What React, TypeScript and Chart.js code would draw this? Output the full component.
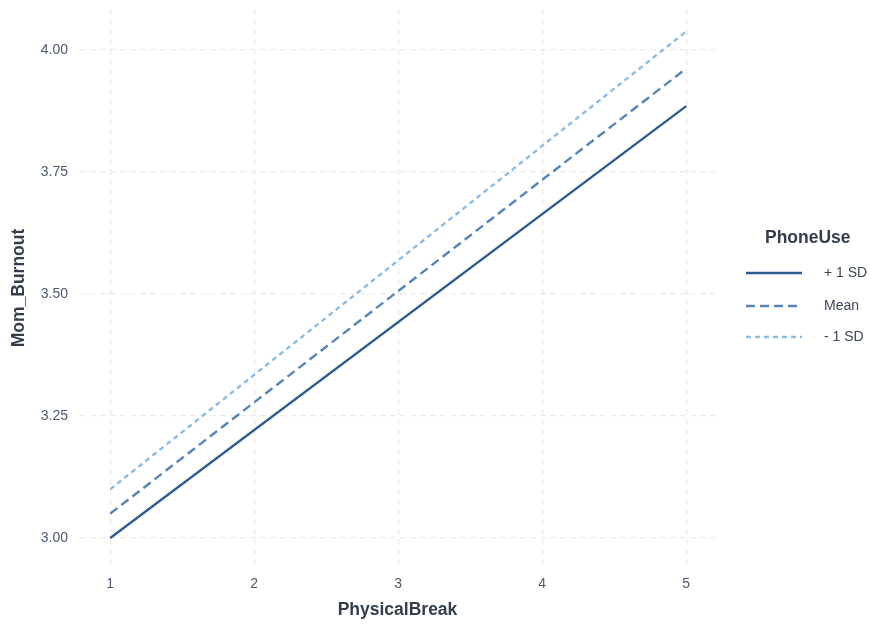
import React, { useEffect, useRef } from "react";
import { Chart, registerables } from "chart.js";

Chart.register(...registerables);

const xValues = [1, 5];
const plusSD = [3.0, 3.885];
const meanSD = [3.05, 3.962];
const minusSD = [3.1, 4.038];
const seriesLabels = ["+ 1 SD", "Mean", "- 1 SD"];
const legendTitle = "PhoneUse";
const xTitle = "PhysicalBreak";
const yTitle = "Mom_Burnout";
const xTicks = [1, 2, 3, 4, 5];
const yTicks = [3.0, 3.25, 3.5, 3.75, 4.0];
const colors = ["#2c5b8d", "#5584b9", "#8bbbe6"];
const dashes: number[][] = [[], [9, 5], [5, 4]];
const FONT = "'Liberation Sans', Arial, sans-serif";

const legendPlugin = {
  id: "ggLegend",
  afterDraw(chart: any) {
    const ctx = chart.ctx;
    ctx.save();
    ctx.fillStyle = "#333d4e";
    ctx.font = `bold 17.5px ${FONT}`;
    ctx.textAlign = "left";
    ctx.textBaseline = "middle";
    ctx.fillText(legendTitle, 765, 238);
    ctx.font = `14px ${FONT}`;
    const ys = [273, 306, 337];
    seriesLabels.forEach((lab, i) => {
      ctx.strokeStyle = colors[i];
      ctx.lineWidth = 2.4;
      ctx.setLineDash(dashes[i]);
      ctx.beginPath();
      ctx.moveTo(746, ys[i]);
      ctx.lineTo(802, ys[i]);
      ctx.stroke();
      ctx.setLineDash([]);
      ctx.fillStyle = "#3d4757";
      ctx.fillText(lab, 824, ys[i]);
    });
    ctx.restore();
  },
};

export default function App() {
  const ref = useRef<HTMLCanvasElement>(null);
  useEffect(() => {
    if (!ref.current) return;
    const mk = (data: number[]) => xValues.map((x, i) => ({ x, y: data[i] }));
    const chart = new Chart(ref.current, {
      type: "line",
      data: {
        datasets: [plusSD, meanSD, minusSD].map((d, i) => ({
          label: seriesLabels[i],
          data: mk(d),
          borderColor: colors[i],
          backgroundColor: colors[i],
          borderWidth: 2.4,
          borderDash: dashes[i],
          pointRadius: 0,
          fill: false,
          tension: 0,
        })),
      },
      options: {
        animation: false,
        responsive: false,
        layout: { padding: { left: 0, right: 155, top: 9, bottom: 0 } },
        plugins: { legend: { display: false }, tooltip: { enabled: false } },
        scales: {
          x: {
            type: "linear",
            min: 0.79,
            max: 5.2,
            afterBuildTicks: (s: any) => {
              s.ticks = xTicks.map((v) => ({ value: v }));
            },
            afterFit: (s: any) => {
              s.height = 59;
              s.paddingLeft = 0;
              s.paddingRight = 0;
            },
            border: { display: false, dash: [6, 4] },
            grid: {
              color: "#ebebeb",
              lineWidth: 1.3,
              drawTicks: false,
            },
            ticks: {
              color: "#4d5a6e",
              font: { family: FONT, size: 14 },
              padding: 9,
              callback: (v: any) => String(v),
            },
            title: {
              display: true,
              text: xTitle,
              color: "#333d4e",
              font: { family: FONT, size: 17.5, weight: "bold" },
              padding: { top: 0, bottom: 5 },
            },
          },
          y: {
            type: "linear",
            min: 2.9406,
            max: 4.084,
            afterBuildTicks: (s: any) => {
              s.ticks = yTicks.map((v) => ({ value: v }));
            },
            afterFit: (s: any) => {
              s.width = 80;
              s.paddingTop = 0;
              s.paddingBottom = 0;
            },
            border: { display: false, dash: [6, 4] },
            grid: {
              color: "#ebebeb",
              lineWidth: 1.3,
              drawTicks: false,
            },
            ticks: {
              color: "#4d5a6e",
              font: { family: FONT, size: 14 },
              padding: 12,
              callback: (v: any) => Number(v).toFixed(2),
            },
            title: {
              display: true,
              text: yTitle,
              color: "#333d4e",
              font: { family: FONT, size: 17.5, weight: "bold" },
              padding: { top: 9, bottom: 0 },
            },
          },
        },
      },
      plugins: [legendPlugin],
    } as any);
    return () => chart.destroy();
  }, []);
  return (
    <div style={{ position: "fixed", left: 0, top: 0, width: 870, height: 626, background: "#fff" }}>
      <canvas ref={ref} width={870} height={626} />
    </div>
  );
}
